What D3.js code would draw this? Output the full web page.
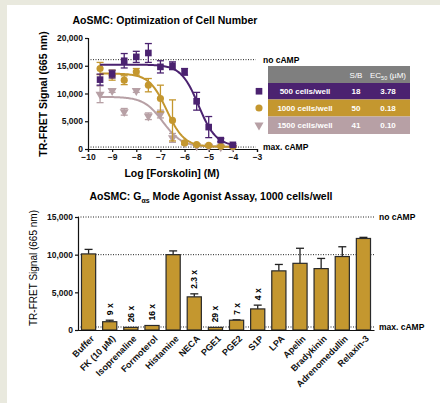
<!DOCTYPE html>
<html>
<head>
<meta charset="utf-8">
<script src="https://cdn.jsdelivr.net/npm/d3@7"></script>
<style>
  body { margin: 0; background: #e9e9de; }
  text { font-family: "Liberation Sans", Arial, sans-serif; }
</style>
</head>
<body>
<div id="chart"></div>
<script>
let W = 440, H = 403

// ---- top chart data ----
let logConc = [-9.5, -9, -8.5, -8, -7.5, -7, -6.5, -6, -5.5, -5, -4.5, -4]
let seriesNames = ["500 cells/well", "1000 cells/well", "1500 cells/well"]
let seriesColors = ["#4b2270", "#c4972f", "#b7a0a5"]
let seriesShapes = ["square", "circle", "triangle"]
let sb = ["18", "50", "41"]
let ec50Text = ["3.78", "0.18", "0.10"]
let vals500 = [12500, 13500, 15900, 16600, 17300, 14800, 15000, 13900, 8600, 3950, 1600, 750]
let err500 = [1000, 700, 1300, 1000, 1700, 1100, 700, 600, 1600, 1900, 300, 200]
let vals1000 = [14500, 13300, 12400, 13900, 11500, 9100, 5150, 1100, 800, 650, 500, 450]
let err1000 = [1100, 900, 800, 600, 1200, 2400, 3700, 300, 150, 100, 100, 100]
let vals1500 = [9850, 10500, 6700, 10500, 5900, 6300, 2000, 1100, 550, 450, 350, 300]
let err1500 = [1500, 300, 600, 300, 600, 700, 800, 300, 100, 100, 80, 80]
// 4PL fit params: [bottom, top, logEC50, hill]
let fits = [[500, 15200, -5.42, 1.2], [400, 13600, -6.74, 1.2], [400, 9400, -6.9, 1.1]]
let noCampTop = 16100, maxCampTop = 350

// ---- bottom chart data ----
let agonists = ["Buffer", "FK (10 µM)", "Isoprenaline", "Formoterol", "Histamine", "NECA", "PGE1", "PGE2", "S1P", "LPA", "Apelin", "Bradykinin", "Adrenomedullin", "Relaxin-3"]
let agonistVals = [10100, 1100, 350, 600, 10000, 4400, 350, 1300, 2800, 7850, 8850, 8150, 9750, 12150]
let agonistErr = [600, 200, 0, 0, 500, 400, 0, 50, 500, 850, 2000, 1350, 1300, 150]
let foldText = ["", "9 x", "26 x", "16 x", "", "2.3 x", "29 x", "7 x", "4 x", "", "", "", "", ""]
let noCampBot = 15000, midLineBot = 10000, maxCampBot = 400

let svg = d3.select("#chart").append("svg")
    .attr("width", W).attr("height", H)
    .style("display", "block")

svg.append("rect").attr("x", 7).attr("y", 5).attr("width", W - 7).attr("height", H - 5).attr("fill", "white")

// ================= top chart =================
let x1 = d3.scaleLinear().domain([-10, -3]).range([88, 257])
let y1 = d3.scaleLinear().domain([0, 20000]).range([149, 38])

let topG = svg.append("g")

topG.append("text").attr("x", 165).attr("y", 24).attr("text-anchor", "middle")
    .attr("font-size", 10.5).attr("font-weight", "bold").text("AoSMC: Optimization of Cell Number")

// dotted reference lines
;[[noCampTop, "no cAMP"], [maxCampTop, "max. cAMP"]].forEach(d => {
    topG.append("line").attr("x1", x1(-10)).attr("x2", x1(-3.05))
        .attr("y1", y1(d[0])).attr("y2", y1(d[0]))
        .attr("stroke", "#222").attr("stroke-width", 1).attr("stroke-dasharray", "1,1.5")
    topG.append("text").attr("x", 263).attr("y", y1(d[0])).attr("dy", "0.35em")
        .attr("font-size", 8.5).attr("font-weight", "bold").text(d[1])
})

topG.append("g").attr("transform", `translate(0,${y1(0)})`)
    .call(d3.axisBottom(x1).tickValues(d3.range(-10, -2)).tickSize(3).tickPadding(2).tickFormat(d3.format("d")))
    .call(g => g.selectAll("text").attr("font-size", 8.5).attr("font-weight", "bold").attr("fill", "#111"))
    .call(g => g.selectAll("path,line").attr("stroke", "#111").attr("stroke-width", 1.2))

topG.append("g").attr("transform", `translate(${x1(-10)},0)`)
    .call(d3.axisLeft(y1).tickValues([0, 5000, 10000, 15000, 20000]).tickSize(3).tickPadding(2).tickFormat(d3.format(",")))
    .call(g => g.selectAll("text").attr("font-size", 8.5).attr("font-weight", "bold").attr("fill", "#111"))
    .call(g => g.selectAll("path,line").attr("stroke", "#111").attr("stroke-width", 1.2))

topG.append("text").attr("x", 172).attr("y", 177).attr("text-anchor", "middle")
    .attr("font-size", 10.5).attr("font-weight", "bold").text("Log [Forskolin] (M)")
topG.append("text").attr("transform", `translate(47,94) rotate(-90)`).attr("text-anchor", "middle")
    .attr("font-size", 10.5).attr("font-weight", "bold").text("TR-FRET Signal (665 nm)")

let symbolFor = s => s === "square" ? d3.symbolSquare : s === "circle" ? d3.symbolCircle : d3.symbolTriangle
let symbolSize = s => s === "square" ? 44 : s === "circle" ? 40 : 36

let allVals = [vals500, vals1000, vals1500]
let allErr = [err500, err1000, err1500]
let curveXs = d3.range(-9.5, -3.99, 0.05)

// draw lavender first so purple is on top
;[2, 1, 0].forEach(si => {
    let g = topG.append("g")
    let f = fits[si]
    let model = x => f[0] + (f[1] - f[0]) / (1 + Math.pow(10, (x - f[2]) * f[3]))
    g.append("path").datum(curveXs)
        .attr("d", d3.line().x(d => x1(d)).y(d => y1(model(d))))
        .attr("fill", "none").attr("stroke", seriesColors[si]).attr("stroke-width", 2)
    let pts = logConc.map((c, i) => ({ c: c, v: allVals[si][i], e: allErr[si][i] }))
    g.selectAll("line.eb").data(pts).join("line").attr("class", "eb")
        .attr("x1", d => x1(d.c)).attr("x2", d => x1(d.c))
        .attr("y1", d => y1(d.v + d.e)).attr("y2", d => y1(Math.max(0, d.v - d.e)))
        .attr("stroke", seriesColors[si]).attr("stroke-width", 1.3)
    ;["u", "d"].forEach(side => {
        let yy = d => y1(side === "u" ? d.v + d.e : Math.max(0, d.v - d.e))
        g.selectAll("line.cap" + side).data(pts).join("line").attr("class", "cap" + side)
            .attr("x1", d => x1(d.c) - 3.5).attr("x2", d => x1(d.c) + 3.5)
            .attr("y1", yy).attr("y2", yy)
            .attr("stroke", seriesColors[si]).attr("stroke-width", 1.3)
    })
    g.selectAll("path.pt").data(pts).join("path").attr("class", "pt")
        .attr("transform", d => `translate(${x1(d.c)},${y1(d.v)})` + (seriesShapes[si] === "triangle" ? " rotate(180)" : ""))
        .attr("d", d3.symbol().type(symbolFor(seriesShapes[si])).size(symbolSize(seriesShapes[si])))
        .attr("fill", seriesColors[si])
})

// legend table
let tX = 268, tW = 142, rowH = [66, 83, 99.5, 116.5, 134]
let tbl = topG.append("g")
tbl.append("rect").attr("x", tX).attr("y", rowH[0]).attr("width", tW).attr("height", rowH[1] - rowH[0]).attr("fill", "#7f7f7f")
tbl.append("text").attr("x", 356).attr("y", 77.5).attr("text-anchor", "middle")
    .attr("font-size", 8).attr("fill", "white").text("S/B")
tbl.append("text").attr("x", 388).attr("y", 77.5).attr("text-anchor", "middle")
    .attr("font-size", 8).attr("fill", "white")
    .call(t => {
        t.append("tspan").text("EC")
        t.append("tspan").attr("font-size", 5.5).attr("dy", 2).text("50")
        t.append("tspan").attr("dy", -2).text(" (µM)")
    })
seriesNames.forEach((name, i) => {
    let y0 = rowH[i + 1], yb = rowH[i + 2], yc = (y0 + yb) / 2
    tbl.append("rect").attr("x", tX).attr("y", y0).attr("width", tW).attr("height", yb - y0).attr("fill", seriesColors[i])
    tbl.append("text").attr("x", 305).attr("y", yc).attr("dy", "0.35em").attr("text-anchor", "middle")
        .attr("font-size", 8).attr("font-weight", "bold").attr("fill", "white").text(name)
    tbl.append("text").attr("x", 356).attr("y", yc).attr("dy", "0.35em").attr("text-anchor", "middle")
        .attr("font-size", 8).attr("font-weight", "bold").attr("fill", "white").text(sb[i])
    tbl.append("text").attr("x", 388).attr("y", yc).attr("dy", "0.35em").attr("text-anchor", "middle")
        .attr("font-size", 8).attr("font-weight", "bold").attr("fill", "white").text(ec50Text[i])
    tbl.append("path")
        .attr("transform", `translate(259,${yc})` + (seriesShapes[i] === "triangle" ? " rotate(180)" : ""))
        .attr("d", d3.symbol().type(symbolFor(seriesShapes[i])).size(symbolSize(seriesShapes[i])))
        .attr("fill", seriesColors[i])
})

// ================= bottom chart =================
let x2 = d3.scaleBand().domain(agonists).range([78, 374]).paddingInner(0.33).paddingOuter(0.165)
let y2 = d3.scaleLinear().domain([0, 15000]).range([330, 217])

let bot = svg.append("g")

bot.append("text").attr("x", 211).attr("y", 200).attr("text-anchor", "middle")
    .attr("font-size", 10.5).attr("font-weight", "bold")
    .call(t => {
        t.append("tspan").text("AoSMC: G")
        t.append("tspan").attr("font-size", 7).attr("dy", 2.5).text("αs")
        t.append("tspan").attr("dy", -2.5).text(" Mode Agonist Assay, 1000 cells/well")
    })

;[[noCampBot, "no cAMP"], [midLineBot, ""], [maxCampBot, "max. cAMP"]].forEach(d => {
    bot.append("line").attr("x1", 78).attr("x2", 374)
        .attr("y1", y2(d[0])).attr("y2", y2(d[0]))
        .attr("stroke", "#222").attr("stroke-width", 1).attr("stroke-dasharray", "1,1.5")
    if (d[1]) bot.append("text").attr("x", 379).attr("y", y2(d[0])).attr("dy", "0.35em")
        .attr("font-size", 8.5).attr("font-weight", "bold").text(d[1])
})

let bars = agonists.map((a, i) => ({ a: a, v: agonistVals[i], e: agonistErr[i], t: foldText[i] }))
let cx = d => x2(d.a) + x2.bandwidth() / 2

bot.selectAll("line.beb").data(bars.filter(d => d.e > 0)).join("line").attr("class", "beb")
    .attr("x1", cx).attr("x2", cx)
    .attr("y1", d => y2(d.v)).attr("y2", d => y2(d.v + d.e))
    .attr("stroke", "#222").attr("stroke-width", 1.3)
bot.selectAll("line.bcap").data(bars.filter(d => d.e > 0)).join("line").attr("class", "bcap")
    .attr("x1", d => cx(d) - 4).attr("x2", d => cx(d) + 4)
    .attr("y1", d => y2(d.v + d.e)).attr("y2", d => y2(d.v + d.e))
    .attr("stroke", "#222").attr("stroke-width", 1.3)

bot.selectAll("rect.bar").data(bars).join("rect").attr("class", "bar")
    .attr("x", d => x2(d.a)).attr("width", x2.bandwidth())
    .attr("y", d => y2(d.v)).attr("height", d => y2(0) - y2(d.v))
    .attr("fill", "#c4972f").attr("stroke", "#2a2a2a").attr("stroke-width", 1.2)

bot.selectAll("text.fold").data(bars.filter(d => d.t)).join("text").attr("class", "fold")
    .attr("transform", d => `translate(${cx(d)},${y2(d.v + d.e) - 5}) rotate(-90)`)
    .attr("dy", "0.35em").attr("font-size", 8.5).attr("font-weight", "bold").text(d => d.t)

// x axis line + slanted category labels
bot.append("g").attr("transform", `translate(0,${y2(0)})`)
    .call(d3.axisBottom(x2).tickSize(0).tickFormat(""))
    .call(g => g.select("path").attr("stroke", "#111").attr("stroke-width", 1.2))

bot.selectAll("text.cat").data(bars).join("text").attr("class", "cat")
    .attr("transform", d => `translate(${cx(d) + 4},${y2(0) + 7}) rotate(-45)`)
    .attr("text-anchor", "end").attr("dy", "0.35em")
    .attr("font-size", 9).attr("font-weight", "bold").attr("fill", "#111")
    .text(d => d.a)

bot.append("g").attr("transform", `translate(78,0)`)
    .call(d3.axisLeft(y2).tickValues([0, 5000, 10000, 15000]).tickSize(3).tickPadding(2).tickFormat(d3.format(",")))
    .call(g => g.selectAll("text").attr("font-size", 8.5).attr("font-weight", "bold").attr("fill", "#111"))
    .call(g => g.selectAll("path,line").attr("stroke", "#111").attr("stroke-width", 1.2))

bot.append("text").attr("transform", `translate(37,268) rotate(-90)`).attr("text-anchor", "middle")
    .attr("font-size", 10).text("TR-FRET Signal (665 nm)")
</script>
</body>
</html>
